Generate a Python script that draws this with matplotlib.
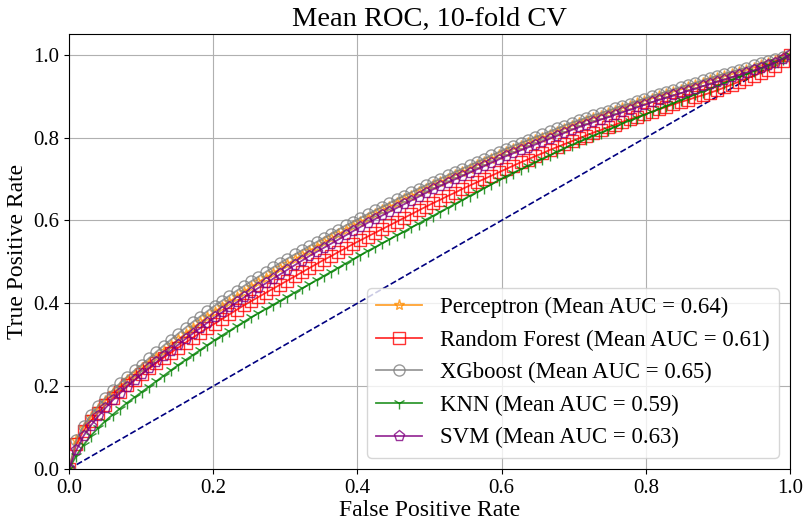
import numpy as np
import matplotlib
matplotlib.use("Agg")
import matplotlib.pyplot as plt

plt.rcParams['font.family'] = ['Liberation Serif', 'DejaVu Serif']

title = "Mean ROC, 10-fold CV"
xlabel = "False Positive Rate"
ylabel = "True Positive Rate"

model_names = ["Perceptron", "Random Forest", "XGboost", "KNN", "SVM"]
mean_aucs = [0.64, 0.61, 0.65, 0.59, 0.63]

# common false-positive-rate grid (100 points, as in mean ROC computation)
mean_fpr = np.linspace(0, 1, 100)

tpr_perceptron = [
    0.0, .070, .100, .125, .146, .165, .183, .199, .215, .229,
    .243, .257, .271, .285, .299, .313, .327, .341, .354, .367,
    .380, .392, .404, .416, .428, .440, .451, .462, .473, .484,
    .495, .506, .516, .527, .537, .547, .557, .567, .577, .587,
    .596, .606, .615, .624, .633, .642, .651, .659, .668, .676,
    .685, .693, .701, .709, .717, .725, .733, .741, .749, .757,
    .765, .772, .779, .786, .793, .800, .807, .814, .821, .828,
    .835, .841, .847, .853, .859, .865, .871, .877, .883, .889,
    .894, .900, .905, .911, .916, .922, .927, .932, .938, .943,
    .948, .953, .958, .963, .969, .974, .979, .985, .992, 1.0]

tpr_random_forest = [
    0.0, .060, .092, .116, .136, .154, .171, .187, .202, .216,
    .230, .243, .256, .269, .281, .293, .305, .317, .329, .340,
    .351, .362, .373, .384, .395, .405, .415, .425, .435, .445,
    .455, .465, .475, .485, .495, .505, .514, .524, .533, .543,
    .552, .561, .570, .579, .588, .597, .606, .615, .624, .633,
    .642, .650, .659, .667, .676, .684, .692, .700, .708, .716,
    .724, .732, .740, .747, .755, .762, .770, .777, .784, .791,
    .798, .805, .812, .818, .825, .831, .838, .844, .850, .856,
    .862, .868, .874, .880, .886, .891, .897, .902, .908, .914,
    .921, .928, .935, .942, .949, .956, .964, .973, .985, 1.0]

tpr_xgboost = [
    0.0, .070, .105, .130, .152, .172, .190, .207, .223, .238,
    .252, .2675, .283, .298, .3125, .327, .341, .355, .368, .381,
    .394, .406, .418, .430, .4415, .453, .464, .4755, .4865, .4975,
    .508, .518, .528, .538, .548, .558, .568, .578, .588, .597,
    .606, .615, .624, .633, .642, .651, .660, .668, .677, .685,
    .693, .701, .709, .717, .725, .733, .741, .749, .757, .765,
    .773, .780, .787, .794, .801, .808, .815, .822, .829, .836,
    .842, .848, .854, .859, .865, .871, .877, .882, .888, .894,
    .900, .905, .911, .916, .922, .927, .932, .938, .943, .949,
    .954, .959, .964, .969, .974, .979, .984, .989, .995, 1.0]

tpr_knn = [
    0.0, .032, .058, .080, .099, .116, .131, .146, .160, .173,
    .186, .199, .212, .225, .238, .251, .263, .275, .287, .299,
    .311, .322, .333, .344, .355, .366, .376, .386, .396, .406,
    .416, .426, .436, .446, .456, .466, .476, .486, .496, .506,
    .516, .526, .535, .545, .554, .564, .573, .583, .592, .602,
    .611, .621, .630, .640, .649, .659, .668, .678, .687, .697,
    .706, .715, .723, .732, .740, .749, .757, .766, .774, .782,
    .790, .797, .805, .812, .819, .826, .834, .841, .848, .855,
    .862, .869, .876, .883, .890, .897, .904, .911, .918, .925,
    .932, .939, .946, .953, .960, .967, .974, .982, .990, 1.0]

tpr_svm = [
    0.0, .045, .080, .105, .127, .147, .166, .183, .199, .214,
    .229, .244, .258, .272, .286, .300, .314, .327, .340, .353,
    .366, .378, .390, .402, .414, .426, .437, .448, .459, .470,
    .481, .492, .503, .514, .524, .534, .544, .554, .564, .574,
    .584, .594, .603, .612, .621, .630, .639, .648, .657, .666,
    .675, .683, .691, .699, .707, .715, .723, .731, .739, .747,
    .755, .762, .769, .776, .783, .790, .797, .804, .811, .818,
    .825, .831, .837, .843, .849, .855, .861, .867, .873, .879,
    .885, .891, .896, .902, .907, .913, .918, .924, .929, .935,
    .940, .946, .951, .957, .962, .968, .974, .981, .990, 1.0]

series = [tpr_perceptron, tpr_random_forest, tpr_xgboost, tpr_knn, tpr_svm]
colors = ["darkorange", "red", "gray", "green", "purple"]
markers = ["*", "s", "o", "1", "p"]

fig = plt.figure(figsize=(8.04, 5.23), dpi=100)
ax = fig.add_axes([69/804, 1-469/523, (790-69)/804, (469-34)/523])

ax.plot([0, 1], [0, 1], linestyle='--', color='navy', lw=1.2, zorder=1)

for name, auc, tpr, c, m in zip(model_names, mean_aucs, series, colors, markers):
    ax.plot(mean_fpr, tpr, color=c, marker=m, markersize=8 if m != "1" else 9,
            markerfacecolor='none', markeredgewidth=1.0, lw=1.3, alpha=0.8,
            label=f"{name} (Mean AUC = {auc:.2f})", zorder=2)

ax.set_xlim(0, 1.0)
ax.set_ylim(0, 1.05)
ax.set_xticks([0, 0.2, 0.4, 0.6, 0.8, 1.0])
ax.set_yticks([0, 0.2, 0.4, 0.6, 0.8, 1.0])
ax.tick_params(labelsize=15)
ax.grid(True, color='#b0b0b0', lw=0.8)
ax.set_axisbelow(True)
ax.set_title(title, fontsize=20.5)
ax.set_xlabel(xlabel, fontsize=17, labelpad=2)
ax.set_ylabel(ylabel, fontsize=17, labelpad=4)
ax.legend(loc='lower right', fontsize=16.4, handlelength=2.0, labelspacing=0.5)

fig.savefig("out.png", dpi=100)
